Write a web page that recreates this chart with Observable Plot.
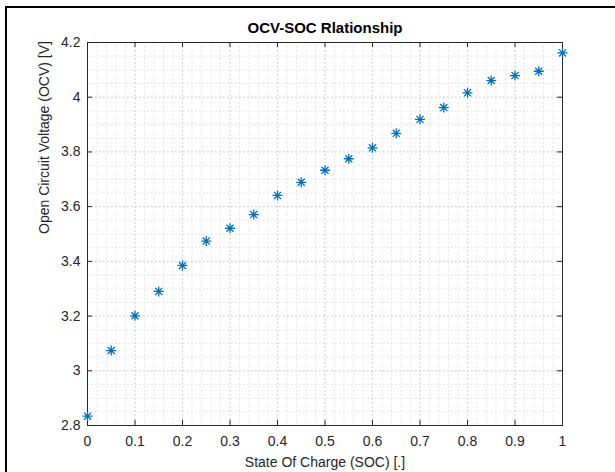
<!DOCTYPE html>
<html>
<head>
<meta charset="utf-8">
<script src="https://cdn.jsdelivr.net/npm/d3@7"></script>
<script src="https://cdn.jsdelivr.net/npm/@observablehq/plot@0.6"></script>
<style>
  html, body { margin: 0; padding: 0; background: #fff; overflow: hidden; width: 615px; height: 472px; }
  #frame { position: absolute; left: 5px; top: 6px; width: 800px; height: 800px; border: 2px solid #000; }
  #chart { position: absolute; left: 0; top: 0; }
</style>
</head>
<body>
<div id="frame"></div>
<div id="chart"></div>
<script>
const soc = [0, 0.05, 0.1, 0.15, 0.2, 0.25, 0.3, 0.35, 0.4, 0.45, 0.5, 0.55, 0.6, 0.65, 0.7, 0.75, 0.8, 0.85, 0.9, 0.95, 1];
const ocv = [2.834, 3.074, 3.201, 3.290, 3.385, 3.474, 3.521, 3.571, 3.641, 3.689, 3.733, 3.775, 3.815, 3.868, 3.919, 3.962, 4.016, 4.061, 4.079, 4.095, 4.162];
const xTicks = [0, 0.1, 0.2, 0.3, 0.4, 0.5, 0.6, 0.7, 0.8, 0.9, 1];
const xTickLabels = ["0", "0.1", "0.2", "0.3", "0.4", "0.5", "0.6", "0.7", "0.8", "0.9", "1"];
const yTicks = [2.8, 3.0, 3.2, 3.4, 3.6, 3.8, 4.0, 4.2];
const yTickLabels = ["2.8", "3", "3.2", "3.4", "3.6", "3.8", "4", "4.2"];
const titleText = "OCV-SOC Rlationship";
const xLabel = "State Of Charge (SOC) [.]";
const yLabel = "Open Circuit Voltage (OCV) [V]";

const data = soc.map((s, i) => ({soc: s, ocv: ocv[i]}));

const W = 615, H = 472;
const mL = 87, mR = 53, mT = 42, mB = 47;
const pw = W - mL - mR, ph = H - mT - mB;

const matlabAsterisk = {
  draw(ctx, size) {
    const r = Math.sqrt(size / Math.PI);
    const d = r * Math.SQRT1_2;
    ctx.moveTo(-r, 0); ctx.lineTo(r, 0);
    ctx.moveTo(0, -r); ctx.lineTo(0, r);
    ctx.moveTo(-d, -d); ctx.lineTo(d, d);
    ctx.moveTo(-d, d); ctx.lineTo(d, -d);
  }
};

const gridColor = "#d6d6d6";
const majorGridColor = "#c6c6c6";
const axisColor = "#262626";

const chart = Plot.plot({
  width: W,
  height: H,
  marginLeft: mL,
  marginRight: mR,
  marginTop: mT,
  marginBottom: mB,
  style: {fontFamily: "'Liberation Sans', Arial, Helvetica, sans-serif", fontSize: "14px", color: axisColor, background: "transparent"},
  x: {domain: [0, 1], axis: null},
  y: {domain: [2.8, 4.2], axis: null},
  marks: [
    Plot.gridX({ticks: 50, stroke: gridColor, strokeOpacity: 1, strokeWidth: 0.8, strokeDasharray: "1.5,2.5"}),
    Plot.gridY({ticks: 28, stroke: gridColor, strokeOpacity: 1, strokeWidth: 0.8, strokeDasharray: "1.5,2.5"}),
    Plot.gridX(xTicks, {stroke: majorGridColor, strokeOpacity: 1, strokeWidth: 0.8, strokeDasharray: "1.5,2.5"}),
    Plot.gridY(yTicks, {stroke: majorGridColor, strokeOpacity: 1, strokeWidth: 0.8, strokeDasharray: "1.5,2.5"}),
    Plot.frame({stroke: axisColor, strokeWidth: 1}),
    Plot.tickX(xTicks, {x: d => d, insetTop: ph - 5, stroke: axisColor}),
    Plot.tickX(xTicks, {x: d => d, insetBottom: ph - 5, stroke: axisColor}),
    Plot.tickY(yTicks, {y: d => d, insetRight: pw - 5, stroke: axisColor}),
    Plot.tickY(yTicks, {y: d => d, insetLeft: pw - 5, stroke: axisColor}),
    Plot.axisX(xTicks, {anchor: "bottom", tickSize: 0, tickPadding: 11, tickFormat: d => xTickLabels[xTicks.indexOf(d)], label: null, fill: axisColor}),
    Plot.axisY(yTicks, {anchor: "left", tickSize: 0, tickPadding: 7, tickFormat: d => yTickLabels[yTicks.indexOf(d)], label: null, fill: axisColor}),
    Plot.dot(data, {x: "soc", y: "ocv", symbol: matlabAsterisk, r: 5, stroke: "#0072BD", strokeWidth: 1.3, fill: "none"}),
    Plot.text([titleText], {frameAnchor: "top", lineAnchor: "middle", dy: -14, text: d => d, fontWeight: "bold", fontSize: 15, fill: "#000"}),
    Plot.text([xLabel], {frameAnchor: "bottom", lineAnchor: "middle", dy: 37, text: d => d, fontSize: 14, fill: axisColor}),
    Plot.text([yLabel], {frameAnchor: "left", dx: -43, rotate: -90, text: d => d, fontSize: 14, fill: axisColor})
  ]
});
document.getElementById("chart").appendChild(chart);
</script>
</body>
</html>
